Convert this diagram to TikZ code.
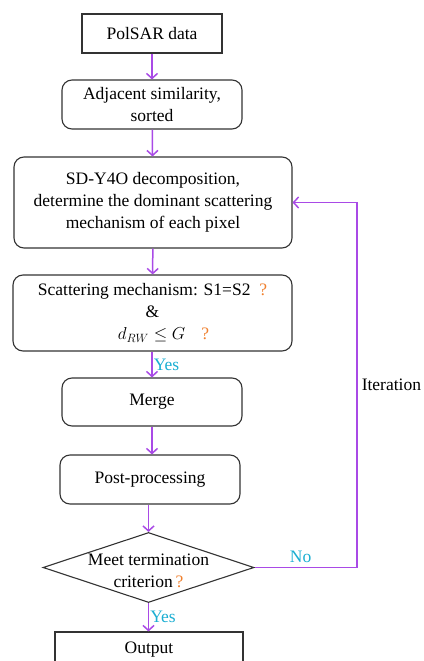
\documentclass[tikz,border=0pt]{standalone}
\usepackage{fontspec}
\setmainfont{Liberation Serif}
\usetikzlibrary{shapes.geometric,arrows.meta,calc}
\definecolor{arr}{HTML}{A94AE6}
\definecolor{cy}{HTML}{1AAED2}
\definecolor{qo}{HTML}{F0802E}
\definecolor{bx}{HTML}{333333}
\newcommand{\qm}{\textcolor{qo}{?}}
\begin{document}
\begin{tikzpicture}[x=1pt,y=-1pt,
  font=\fontsize{17.5}{22}\selectfont,
  sqbox/.style={draw=bx,line width=1.1pt,fill=white,inner sep=0pt,align=center},
  rbox/.style={sqbox,rounded corners=10pt},
  flow/.style={draw=arr,line width=1.5pt,-{Straight Barb[length=5pt,width=11pt,line width=1.5pt]}},
  lab/.style={text=cy,inner sep=1pt}]
\useasboundingbox (0,0) rectangle (423,661);
\clip (0,0) rectangle (423,661);
\node[sqbox,minimum width=140,minimum height=39] (pol) at (152,33.5) {PolSAR data};
\node[rbox,minimum width=180,minimum height=49] (adj) at (152,104.5) {Adjacent similarity,\\sorted};
\node[rbox,minimum width=278,minimum height=91] (sd) at (153,202.5) {SD-Y4O decomposition,\\determine the dominant scattering\\mechanism of each pixel};
\node[rbox,minimum width=279,minimum height=76] (sc) at (152.5,313) {Scattering mechanism: S1=S2\ \ \qm\\\&\\\hspace*{22pt}$d_{RW}\leq G$\hspace{16pt}\qm};
\node[rbox,minimum width=180,minimum height=48] (mer) at (152,402) {Merge};
\node[rbox,minimum width=180,minimum height=49] (post) at (150,479.5) {Post-processing};
\node[diamond,draw=bx,line width=1.1pt,minimum width=211,minimum height=70,inner sep=0pt] (dec) at (148.5,567.5) {};
\node[align=center,inner sep=0pt] at ($(dec.center)+(0,3)$) {Meet termination\\criterion\,\qm};
\node[sqbox,minimum width=188,minimum height=60] (out) at (149,662) {};
\node[inner sep=0pt] at (149,650) {Output};
\draw[flow] (pol) -- (adj);
\draw[flow] (adj) -- (sd);
\draw[flow] (sd) -- (sc);
\draw[flow] (sc.south -| mer) -- node[lab,right] {Yes} (mer);
\draw[flow] (mer) -- (post.north -| mer);
\draw[flow] (post.south -| dec) -- (dec);
\draw[flow] (dec) -- node[lab,right] {Yes} (out.north -| dec);
\coordinate (rt) at (357,0);
\draw[flow] (dec.east) -- node[lab,above,pos=0.45,yshift=3pt] {No} (dec.east -| rt) |- node[pos=0.25,right,inner sep=4pt] {Iteration} (sd.east);
\end{tikzpicture}
\end{document}
